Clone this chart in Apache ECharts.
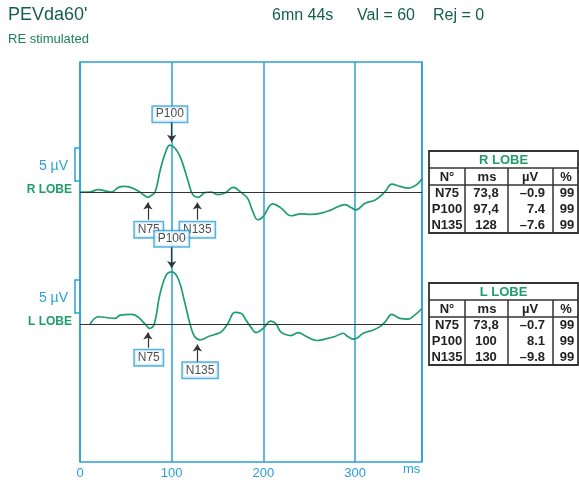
<!DOCTYPE html>
<html>
<head>
<meta charset="utf-8">
<script src="https://cdn.jsdelivr.net/npm/echarts@6/dist/echarts.min.js"></script>
<style>
  html, body { margin: 0; padding: 0; background: #fff; }
  #main { width: 579px; height: 480px; }
</style>
</head>
<body>
<div id="main"></div>
<script>
// time axis (ms)
const xTicks = [0, 100, 200, 300];

// R LOBE trace: time (ms) and amplitude (µV)
const rTimes = [0, 10, 20, 34, 42, 48, 55, 63, 70, 74, 78, 82, 88, 94, 98, 104, 110, 118, 123, 129, 136, 143, 150, 158, 167, 176, 183, 188, 194, 200, 210, 219, 230, 241, 252, 263, 274, 289, 296, 301, 311, 322, 333, 340, 349, 358, 367, 373];
const rValues = [0, 0, 0.35, 0, 0.7, 0.85, 0.7, 0.2, -0.5, -0.8, -0.5, 0, 3.6, 6.3, 7.1, 6.6, 5.1, 1.6, -0.4, -0.8, -0.1, 0, -0.4, -0.15, 0.7, -0.1, -1.0, -2.8, -4.2, -3.7, -1.8, -2.4, -3.6, -3.3, -3.4, -3.2, -2.7, -1.9, -2.4, -2.7, -1.7, -1.2, 0.1, 1.2, 0.85, 0.6, 1.1, 2.0];

// L LOBE trace
const lTimes = [11, 20, 30, 38, 44, 56, 63, 71, 76, 81, 87, 94, 100, 107, 114, 120, 125, 131, 140, 147, 154, 161, 169, 176, 181, 186, 192, 200, 208, 214, 219, 230, 238, 247, 258, 267, 278, 287, 292, 299, 309, 320, 327, 333, 340, 349, 358, 365, 373];
const lValues = [0, 1.1, 0.95, 0.85, 1.35, 1.45, 1.1, 0, -0.65, 0, 4.4, 7.4, 7.9, 6.9, 3.4, 0, -1.9, -2.4, -1.9, -1.6, -1.2, 0, 1.75, 1.6, 0.6, -0.4, -1.3, -0.65, 0.45, 0, -1.2, -1.75, -1.3, -1.9, -2.5, -2.3, -1.9, -1.4, -1.9, -2.3, -1.4, -0.9, -0.4, 0.35, 1.45, 0.85, 0.75, 1.35, 2.35];

// peak markers: label, box position (ms, µV), arrow x (ms), arrow from/to (µV)
const rMarks = [
  { name: 'P100', box: [98, 11.8], ax: 100, from: 10.8, to: 7.6 },
  { name: 'N75', box: [75, -5.7], ax: 74, from: -4.2, to: -1.6 },
  { name: 'N135', box: [128, -5.7], ax: 128, from: -4.2, to: -1.6 }
];
const lMarks = [
  { name: 'P100', box: [100, 12.9], ax: 100, from: 11.7, to: 8.5 },
  { name: 'N75', box: [75, -5.1], ax: 74, from: -3.6, to: -1.3 },
  { name: 'N135', box: [131, -7.0], ax: 128, from: -5.8, to: -3.1 }
];

// result tables
const tableHead = ['N°', 'ms', 'µV', '%'];
const rRows = [['N75', '73,8', '–0.9', '99'], ['P100', '97,4', '7.4', '99'], ['N135', '128', '–7.6', '99']];
const lRows = [['N75', '73,8', '–0.7', '99'], ['P100', '100', '8.1', '99'], ['N135', '130', '–9.8', '99']];

const BLUE = '#2a9fd8';
const GREEN = '#1f9e6c';
const FONT = 'Liberation Sans, Arial, sans-serif';

function zip(a, b) { return a.map((t, i) => [t, b[i]]); }

function markSeries(marks, axis) {
  return {
    type: 'scatter',
    yAxisIndex: axis,
    symbolSize: 1,
    itemStyle: { color: 'transparent' },
    silent: true,
    z: 5,
    data: marks.map(m => ({ value: m.box, name: m.name })),
    label: {
      show: true, position: 'inside', formatter: '{b}',
      fontFamily: FONT, fontSize: 12, color: '#222',
      backgroundColor: '#fff', borderColor: BLUE, borderWidth: 1.5,
      padding: [2, 3, 1, 3]
    }
  };
}

function traceSeries(name, times, values, marks, axis) {
  return {
    name: name,
    type: 'line',
    yAxisIndex: axis,
    data: zip(times, values),
    smooth: 0.4,
    showSymbol: false,
    lineStyle: { color: GREEN, width: 1.7 },
    z: 3,
    markLine: {
      silent: true,
      animation: false,
      label: { show: false },
      lineStyle: { color: '#333', width: 1.2, type: 'solid' },
      symbolSize: 7,
      data: [
        [{ coord: [0, 0], symbol: 'none' }, { coord: [373, 0], symbol: 'none' }]
      ].concat(marks.map(m => [
        { coord: [m.ax, m.from], symbol: 'none' },
        { coord: [m.ax, m.to], symbol: 'arrow' }
      ]))
    }
  };
}

function tableGraphic(title, top, rows) {
  const cols = [429, 465, 508, 553, 578];
  const rowH = [17, 17, 16, 16, 16];
  const els = [];
  const total = rowH.reduce((s, h) => s + h, 0);
  const line = { stroke: '#333', lineWidth: 1.5 };
  els.push({ type: 'rect', shape: { x: cols[0], y: top, width: cols[4] - cols[0], height: total }, style: { fill: '#fff', stroke: '#333', lineWidth: 1.8 } });
  els.push({ type: 'line', shape: { x1: cols[0], y1: top + 17, x2: cols[4], y2: top + 17 }, style: line });
  els.push({ type: 'line', shape: { x1: cols[0], y1: top + 34, x2: cols[4], y2: top + 34 }, style: line });
  for (let c = 1; c < 4; c++) {
    els.push({ type: 'line', shape: { x1: cols[c], y1: top + 17, x2: cols[c], y2: top + total }, style: line });
  }
  els.push({ type: 'text', style: { text: title, x: (cols[0] + cols[4]) / 2, y: top + 9, align: 'center', verticalAlign: 'middle', fill: GREEN, font: 'bold 13px ' + FONT } });
  const txt = (s, x, y, align) => ({ type: 'text', style: { text: s, x: x, y: y, align: align, verticalAlign: 'middle', fill: '#222', font: 'bold 13px ' + FONT } });
  const cx = [447, 487, 530, 566];
  tableHead.forEach((h, i) => els.push(txt(h, cx[i], top + 26, 'center')));
  rows.forEach((r, j) => {
    const y = top + 34 + 8 + j * 16;
    els.push(txt(r[0], 447, y, 'center'));
    els.push(txt(r[1], 486, y, 'center'));
    els.push(txt(r[2], 545, y, 'right'));
    els.push(txt(r[3], 567, y, 'center'));
  });
  return els;
}

const chart = echarts.init(document.getElementById('main'));

const option = {
  animation: false,
  grid: {
    left: 80, top: 62, right: 157, bottom: 18,
    show: true, borderColor: BLUE, borderWidth: 1.5
  },
  xAxis: {
    type: 'value', min: 0, max: 373, interval: 100,
    axisLine: { show: false },
    axisTick: { show: false },
    splitLine: { show: true, lineStyle: { color: BLUE, width: 1.5 } },
    axisLabel: {
      color: BLUE, fontFamily: FONT, fontSize: 13, margin: 5,
      showMaxLabel: false,
      formatter: v => (xTicks.indexOf(v) >= 0 ? String(v) : '')
    }
  },
  yAxis: [
    { type: 'value', min: -40.91, max: 19.70, show: false, splitLine: { show: false } },
    { type: 'value', min: -20.91, max: 39.70, show: false, splitLine: { show: false } }
  ],
  series: [
    traceSeries('R LOBE', rTimes, rValues, rMarks, 0),
    traceSeries('L LOBE', lTimes, lValues, lMarks, 1),
    markSeries(rMarks, 0),
    markSeries(lMarks, 1)
  ],
  graphic: [
    { type: 'text', style: { text: "PEVda60'", x: 8, y: 6, fill: '#135e4c', font: '18px ' + FONT } },
    { type: 'text', style: { text: 'RE stimulated', x: 8, y: 33, fill: '#1c7f5c', font: '13px ' + FONT } },
    { type: 'text', style: { text: '6mn 44s', x: 272, y: 8, fill: '#135e4c', font: '16px ' + FONT } },
    { type: 'text', style: { text: 'Val = 60', x: 357, y: 8, fill: '#135e4c', font: '16px ' + FONT } },
    { type: 'text', style: { text: 'Rej = 0', x: 433, y: 8, fill: '#135e4c', font: '16px ' + FONT } },
    { type: 'text', style: { text: 'ms', x: 403, y: 463, fill: BLUE, font: '13px ' + FONT } }
  ]
    .concat(tableGraphic('R LOBE', 151, rRows))
    .concat(tableGraphic('L LOBE', 283, lRows))
};

chart.setOption(option);

// scale brackets (5 µV) and trace names, placed through the y axes
const extra = [];
[0, 1].forEach(ax => {
  const y0 = chart.convertToPixel({ yAxisIndex: ax }, 0);
  const y1 = chart.convertToPixel({ yAxisIndex: ax }, 1.67);
  const y2 = chart.convertToPixel({ yAxisIndex: ax }, 6.67);
  extra.push({ type: 'polyline', shape: { points: [[80, y1], [75, y1], [75, y2], [80, y2]] }, style: { stroke: BLUE, lineWidth: 1.5, fill: null } });
  extra.push({ type: 'text', style: { text: '5 µV', x: 68, y: (y1 + y2) / 2 + 2, align: 'right', verticalAlign: 'middle', fill: BLUE, font: '14px ' + FONT } });
  extra.push({ type: 'text', style: { text: ax === 0 ? 'R LOBE' : 'L LOBE', x: 72, y: y0 - 2, align: 'right', verticalAlign: 'middle', fill: GREEN, font: 'bold 12px ' + FONT } });
});
chart.setOption({ graphic: option.graphic.concat(extra) });
</script>
</body>
</html>
